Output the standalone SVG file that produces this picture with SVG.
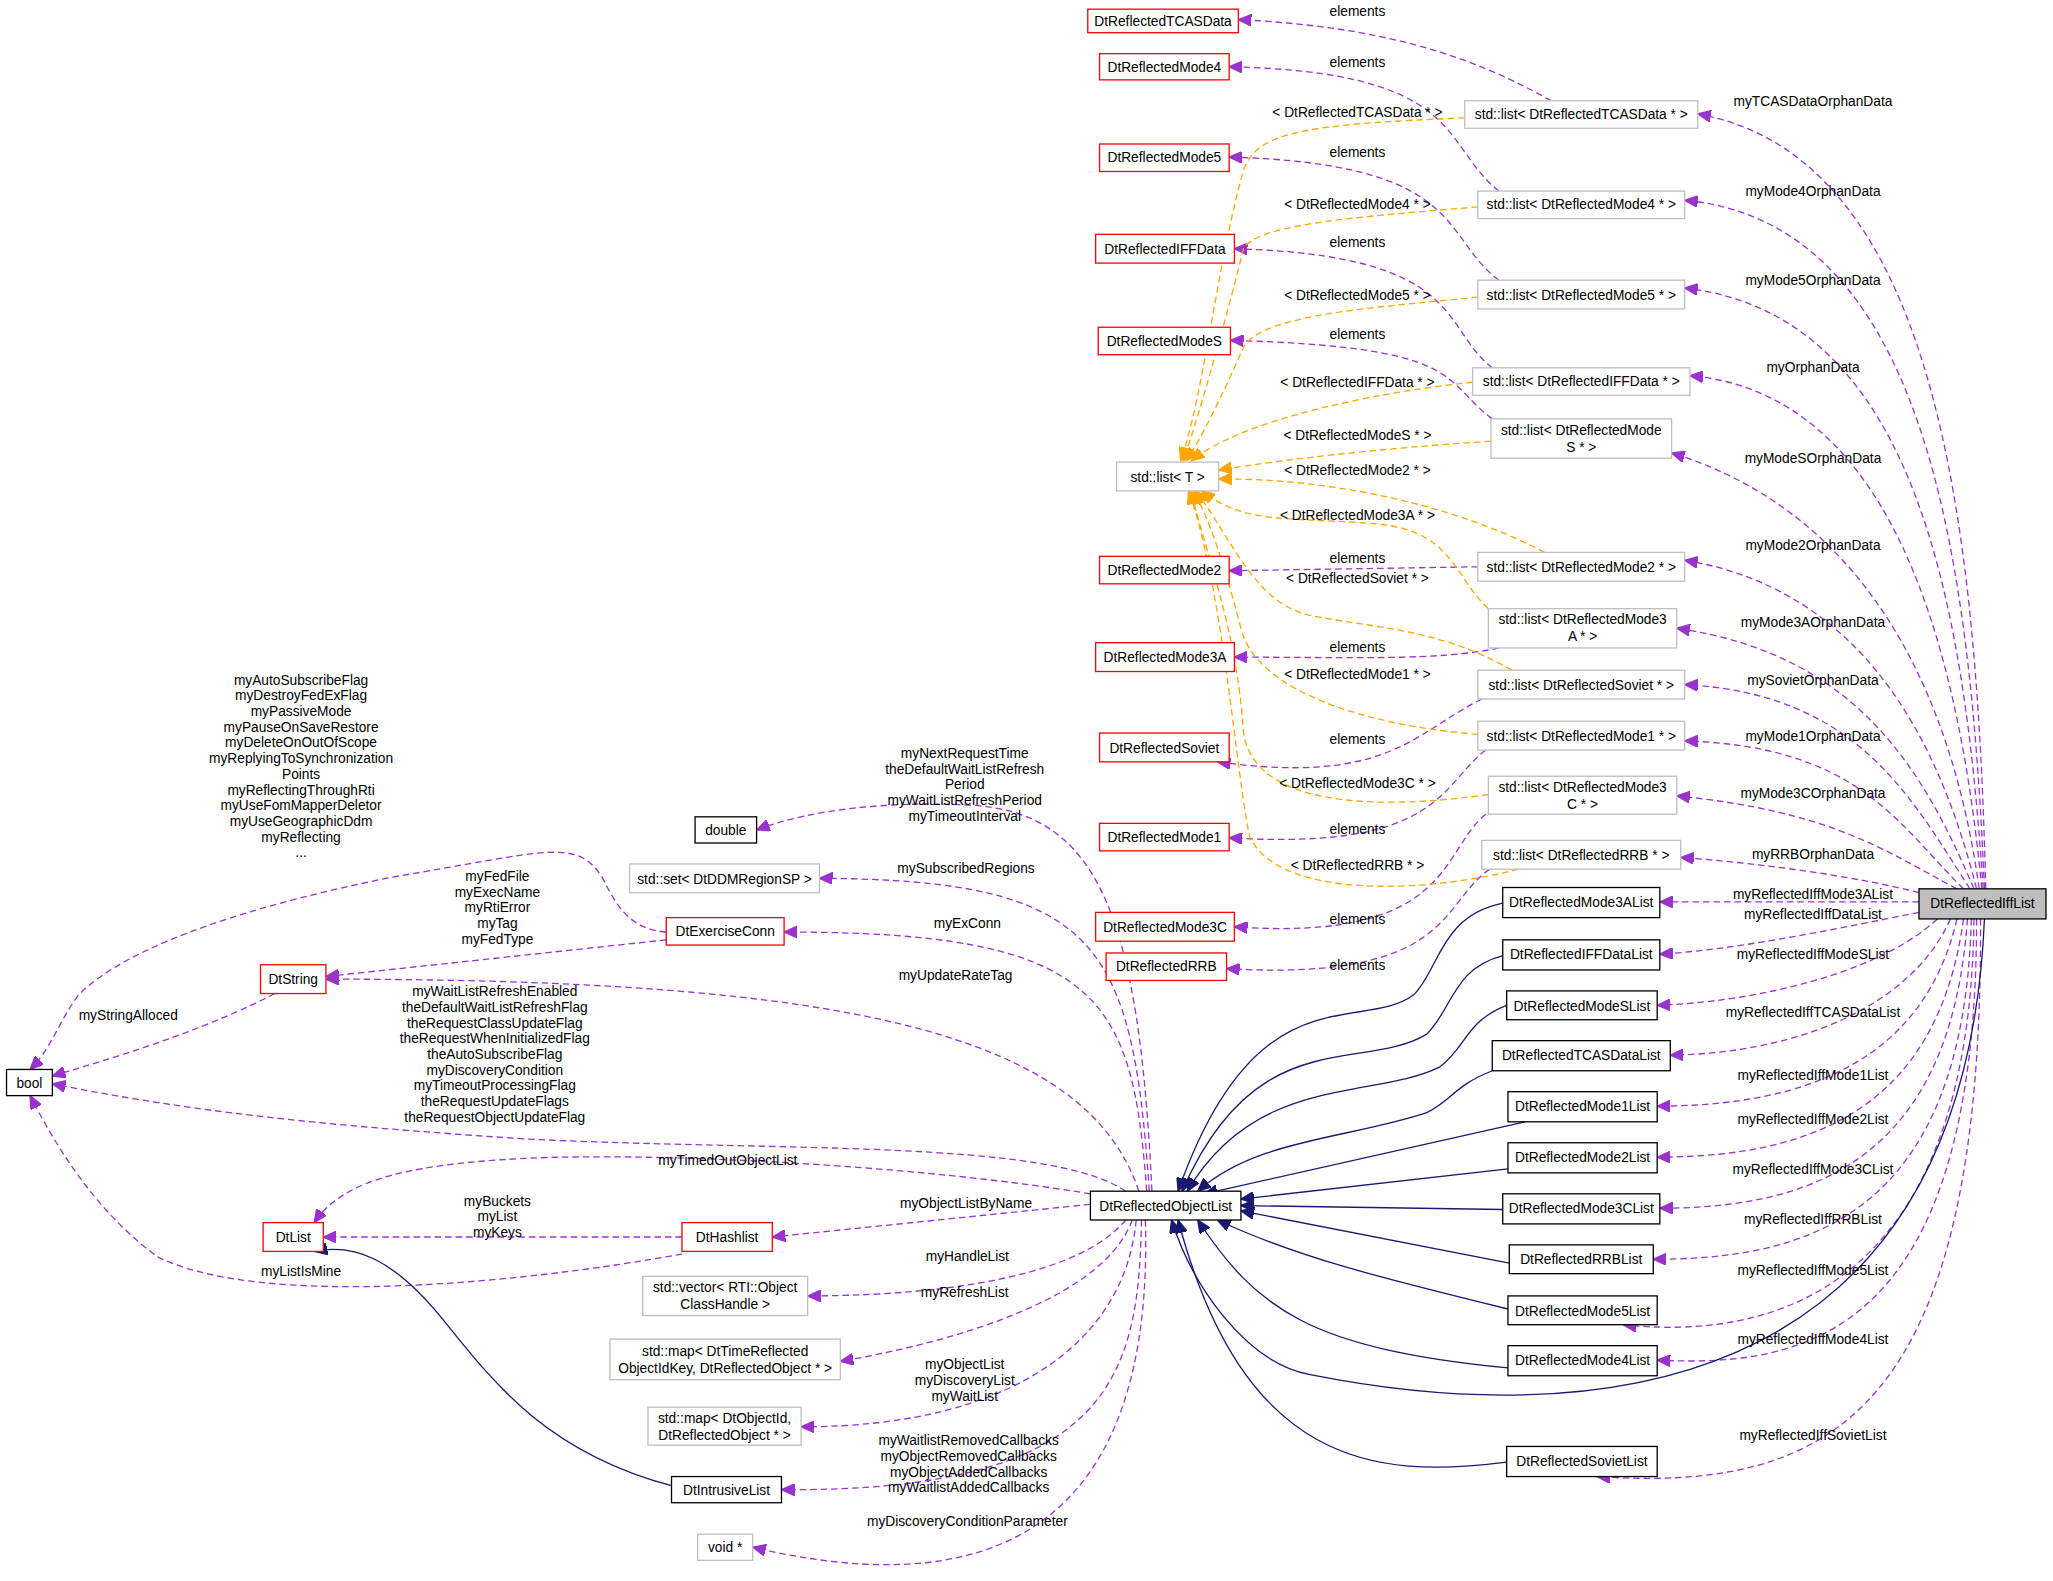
<svg xmlns="http://www.w3.org/2000/svg" width="2053" height="1581" viewBox="0 0 2053 1581">
<style>
text{font-family:"Liberation Sans",Arial,sans-serif;font-size:10.5px;fill:#000;text-anchor:middle}
.n rect{stroke-width:1}
.r{fill:#fff;stroke:#ff0000}
.k{fill:#fff;stroke:#000}
.g{fill:#fff;stroke:#bfbfbf}
.p{fill:none;stroke:#9a32cd;stroke-dasharray:5,3;marker-end:url(#ap)}
.o{fill:none;stroke:#ffa500;stroke-dasharray:5,3;marker-end:url(#ao)}
.b{fill:none;stroke:#191970;marker-end:url(#ab)}
</style>
<defs>
<marker id="ap" markerUnits="userSpaceOnUse" markerWidth="11" markerHeight="9" refX="10" refY="4.5" orient="auto"><path d="M0,0L10,4.5L0,9z" fill="#9a32cd" stroke="#9a32cd"/></marker>
<marker id="ao" markerUnits="userSpaceOnUse" markerWidth="11" markerHeight="9" refX="10" refY="4.5" orient="auto"><path d="M0,0L10,4.5L0,9z" fill="#ffa500" stroke="#ffa500"/></marker>
<marker id="ab" markerUnits="userSpaceOnUse" markerWidth="11" markerHeight="9" refX="10" refY="4.5" orient="auto"><path d="M0,0L10,4.5L0,9z" fill="#191970" stroke="#191970"/></marker>
</defs>
<rect width="2053" height="1581" fill="#fff"/>
<g transform="scale(1.309)">
<g id="edges">
<path class="p" d="M1517,679 C1510,400 1480,120 1297,87"/>
<path class="p" d="M1516,679 C1505,420 1470,170 1287,153"/>
<path class="p" d="M1515,679 C1500,450 1460,240 1287,220"/>
<path class="p" d="M1514,679 C1495,480 1440,300 1291,287"/>
<path class="p" d="M1512,679 C1490,520 1420,390 1277,346"/>
<path class="p" d="M1510,679 C1480,560 1420,450 1287,428"/>
<path class="p" d="M1508,679 C1470,590 1420,500 1281,480"/>
<path class="p" d="M1505,679 C1460,610 1420,530 1287,523"/>
<path class="p" d="M1500,679 C1450,630 1420,570 1287,566"/>
<path class="p" d="M1495,679 C1440,650 1400,620 1281,608"/>
<path class="p" d="M1466,682 C1420,670 1350,660 1284,655"/>
<path class="p" d="M1466,689 L1268,689"/>
<path class="p" d="M1466,697 C1400,710 1330,725 1268,729"/>
<path class="p" d="M1480,702 C1440,740 1350,765 1266,768"/>
<path class="p" d="M1490,702 C1460,770 1370,805 1276,806"/>
<path class="p" d="M1495,702 C1470,810 1380,845 1266,845"/>
<path class="p" d="M1500,702 C1480,850 1380,884 1266,884"/>
<path class="p" d="M1503,702 C1490,890 1380,923 1268,923"/>
<path class="p" d="M1506,702 C1500,930 1380,962 1263,962"/>
<path class="p" d="M1508,702 C1505,980 1360,1025 1240,1012"/>
<path class="p" d="M1510,702 C1510,1020 1380,1045 1266,1039"/>
<path class="p" d="M1513,702 C1515,1080 1400,1140 1220,1128"/>
<path class="b" d="M1516,702 C1500,1080 1200,1090 1000,1050 C950,1040 910,980 895,932"/>
<path class="p" d="M1185,77 C1120,40 1050,20 946,15"/>
<path class="p" d="M1145,146 C1100,110 1120,55 939,51"/>
<path class="p" d="M1145,214 C1100,180 1120,125 939,120"/>
<path class="p" d="M1140,281 C1100,250 1120,195 943,190"/>
<path class="p" d="M1140,320 C1100,290 1120,265 940,260"/>
<path class="p" d="M1129,433 L939,436"/>
<path class="p" d="M1145,495 C1100,505 1030,502 943,502"/>
<path class="p" d="M1132,534 C1080,560 1060,600 930,582"/>
<path class="p" d="M1135,573 C1100,600 1100,650 939,640"/>
<path class="p" d="M1135,622 C1100,650 1110,720 943,708"/>
<path class="p" d="M1138,664 C1100,690 1110,750 937,740"/>
<path class="o" d="M1119,90 C1000,95 960,100 950,130 C930,200 920,300 902,352"/>
<path class="o" d="M1129,158 C1050,165 960,170 950,190 C935,250 915,320 904,352"/>
<path class="o" d="M1129,227 C1050,235 965,240 950,265 C935,300 915,340 906,352"/>
<path class="o" d="M1125,292 C1050,300 950,320 910,352"/>
<path class="o" d="M1139,337 C1050,343 990,350 931,359"/>
<path class="o" d="M1180,422 C1100,380 1000,365 931,366"/>
<path class="o" d="M1137,465 C1110,440 1110,405 1050,400 C980,395 950,400 918,375"/>
<path class="o" d="M1155,512 C1100,480 1050,480 1000,470 C960,460 945,420 914,375"/>
<path class="o" d="M1129,561 C1050,555 960,530 948,480 C935,430 925,400 912,375"/>
<path class="o" d="M1137,607 C1080,615 960,625 950,560 C945,480 920,420 910,375"/>
<path class="o" d="M1160,664 C1100,680 980,690 955,640 C945,600 935,450 908,375"/>
<path class="b" d="M1148,690 C1100,700 1100,740 1080,760 C1040,790 960,740 900,910"/>
<path class="b" d="M1148,730 C1110,740 1110,770 1090,790 C1040,820 960,780 903,910"/>
<path class="b" d="M1151,768 C1120,780 1120,800 1100,815 C1050,840 960,820 907,910"/>
<path class="b" d="M1140,818 C1110,830 1110,840 1090,850 C1030,870 960,870 915,910"/>
<path class="b" d="M1165,857 L920,912"/>
<path class="b" d="M1152,893 L948,916"/>
<path class="b" d="M1148,924 L948,921"/>
<path class="b" d="M1153,965 L948,925"/>
<path class="b" d="M1152,1000 C1050,975 990,960 930,932"/>
<path class="b" d="M1152,1045 C1000,1030 960,1000 915,932"/>
<path class="b" d="M1151,1117 C1050,1130 950,1120 900,932"/>
<path class="p" d="M880,910 C870,700 840,620 740,615 C680,612 620,618 578,634"/>
<path class="p" d="M878,910 C865,720 840,672 626,671"/>
<path class="p" d="M876,910 C865,760 840,712 599,712"/>
<path class="p" d="M870,910 C830,790 650,748 249,748"/>
<path class="p" d="M860,910 C800,870 600,880 400,870 C250,860 150,850 40,828"/>
<path class="p" d="M833,912 C700,890 500,880 400,885 C300,890 260,905 240,934"/>
<path class="p" d="M833,920 L590,945"/>
<path class="p" d="M860,932 C820,980 700,990 617,990"/>
<path class="p" d="M865,932 C840,1000 700,1030 642,1040"/>
<path class="p" d="M868,932 C860,1020 780,1090 612,1090"/>
<path class="p" d="M872,932 C870,1050 850,1140 597,1138"/>
<path class="p" d="M875,932 C880,1100 820,1240 575,1182"/>
<path class="p" d="M509,712 C480,710 470,690 460,670 C440,640 420,650 300,670 C200,690 100,720 60,760 C45,780 40,800 23,817"/>
<path class="p" d="M509,718 L249,746"/>
<path class="p" d="M210,759 C150,790 80,810 40,822"/>
<path class="p" d="M521,945 L247,945"/>
<path class="p" d="M521,958 C400,980 200,1000 120,960 C80,930 50,890 23,837"/>
<path class="b" d="M513,1135 C420,1110 380,1060 340,1010 C300,960 270,950 240,956"/>
</g>
<g id="labels">
<text x="1385" y="81">myTCASDataOrphanData</text>
<text x="1385" y="150">myMode4OrphanData</text>
<text x="1385" y="218">myMode5OrphanData</text>
<text x="1385" y="284">myOrphanData</text>
<text x="1385" y="354">myModeSOrphanData</text>
<text x="1385" y="420">myMode2OrphanData</text>
<text x="1385" y="479">myMode3AOrphanData</text>
<text x="1385" y="523">mySovietOrphanData</text>
<text x="1385" y="566">myMode1OrphanData</text>
<text x="1385" y="610">myMode3COrphanData</text>
<text x="1385" y="656">myRRBOrphanData</text>
<text x="1385" y="687">myReflectedIffMode3AList</text>
<text x="1385" y="702">myReflectedIffDataList</text>
<text x="1385" y="733">myReflectedIffModeSList</text>
<text x="1385" y="777">myReflectedIffTCASDataList</text>
<text x="1385" y="825">myReflectedIffMode1List</text>
<text x="1385" y="859">myReflectedIffMode2List</text>
<text x="1385" y="897">myReflectedIffMode3CList</text>
<text x="1385" y="935">myReflectedIffRRBList</text>
<text x="1385" y="974">myReflectedIffMode5List</text>
<text x="1385" y="1027">myReflectedIffMode4List</text>
<text x="1385" y="1100">myReflectedIffSovietList</text>
<text x="1037" y="89">&lt; DtReflectedTCASData * &gt;</text>
<text x="1037" y="160">&lt; DtReflectedMode4 * &gt;</text>
<text x="1037" y="229">&lt; DtReflectedMode5 * &gt;</text>
<text x="1037" y="296">&lt; DtReflectedIFFData * &gt;</text>
<text x="1037" y="336">&lt; DtReflectedModeS * &gt;</text>
<text x="1037" y="363">&lt; DtReflectedMode2 * &gt;</text>
<text x="1037" y="397">&lt; DtReflectedMode3A * &gt;</text>
<text x="1037" y="445">&lt; DtReflectedSoviet * &gt;</text>
<text x="1037" y="519">&lt; DtReflectedMode1 * &gt;</text>
<text x="1037" y="602">&lt; DtReflectedMode3C * &gt;</text>
<text x="1037" y="665">&lt; DtReflectedRRB * &gt;</text>
<text x="1037" y="12">elements</text>
<text x="1037" y="51">elements</text>
<text x="1037" y="120">elements</text>
<text x="1037" y="189">elements</text>
<text x="1037" y="259">elements</text>
<text x="1037" y="430">elements</text>
<text x="1037" y="498">elements</text>
<text x="1037" y="568">elements</text>
<text x="1037" y="637">elements</text>
<text x="1037" y="706">elements</text>
<text x="1037" y="741">elements</text>
<text x="230" y="523">myAutoSubscribeFlag</text>
<text x="230" y="535">myDestroyFedExFlag</text>
<text x="230" y="547">myPassiveMode</text>
<text x="230" y="559">myPauseOnSaveRestore</text>
<text x="230" y="571">myDeleteOnOutOfScope</text>
<text x="230" y="583">myReplyingToSynchronization</text>
<text x="230" y="595">Points</text>
<text x="230" y="607">myReflectingThroughRti</text>
<text x="230" y="619">myUseFomMapperDeletor</text>
<text x="230" y="631">myUseGeographicDdm</text>
<text x="230" y="643">myReflecting</text>
<text x="230" y="655">...</text>
<text x="380" y="673">myFedFile</text>
<text x="380" y="685">myExecName</text>
<text x="380" y="697">myRtiError</text>
<text x="380" y="709">myTag</text>
<text x="380" y="721">myFedType</text>
<text x="98" y="779">myStringAlloced</text>
<text x="378" y="761">myWaitListRefreshEnabled</text>
<text x="378" y="773">theDefaultWaitListRefreshFlag</text>
<text x="378" y="785">theRequestClassUpdateFlag</text>
<text x="378" y="797">theRequestWhenInitializedFlag</text>
<text x="378" y="809">theAutoSubscribeFlag</text>
<text x="378" y="821">myDiscoveryCondition</text>
<text x="378" y="833">myTimeoutProcessingFlag</text>
<text x="378" y="845">theRequestUpdateFlags</text>
<text x="378" y="857">theRequestObjectUpdateFlag</text>
<text x="730" y="749">myUpdateRateTag</text>
<text x="737" y="579">myNextRequestTime</text>
<text x="737" y="591">theDefaultWaitListRefresh</text>
<text x="737" y="603">Period</text>
<text x="737" y="615">myWaitListRefreshPeriod</text>
<text x="737" y="627">myTimeoutInterval</text>
<text x="738" y="667">mySubscribedRegions</text>
<text x="739" y="709">myExConn</text>
<text x="556" y="890">myTimedOutObjectList</text>
<text x="380" y="921">myBuckets</text>
<text x="380" y="933">myList</text>
<text x="380" y="945">myKeys</text>
<text x="738" y="923">myObjectListByName</text>
<text x="230" y="975">myListIsMine</text>
<text x="739" y="963">myHandleList</text>
<text x="737" y="991">myRefreshList</text>
<text x="737" y="1046">myObjectList</text>
<text x="737" y="1058">myDiscoveryList</text>
<text x="737" y="1070">myWaitList</text>
<text x="740" y="1104">myWaitlistRemovedCallbacks</text>
<text x="740" y="1116">myObjectRemovedCallbacks</text>
<text x="740" y="1128">myObjectAddedCallbacks</text>
<text x="740" y="1140">myWaitlistAddedCallbacks</text>
<text x="739" y="1166">myDiscoveryConditionParameter</text>
</g>
<g id="DtReflectedIffList"><rect x="1466" y="679" width="97" height="23" fill="#bfbfbf" stroke="#000"/><text x="1514.5" y="694">DtReflectedIffList</text></g>
<g id="DtReflectedTCASData"><rect class="r" x="831" y="7" width="115" height="18"/><text x="888.5" y="20">DtReflectedTCASData</text></g>
<g id="DtReflectedMode4"><rect class="r" x="840" y="41" width="99" height="20"/><text x="889.5" y="55">DtReflectedMode4</text></g>
<g id="DtReflectedMode5"><rect class="r" x="840" y="110" width="99" height="21"/><text x="889.5" y="124">DtReflectedMode5</text></g>
<g id="DtReflectedIFFData"><rect class="r" x="837" y="179" width="106" height="22"/><text x="890" y="194">DtReflectedIFFData</text></g>
<g id="DtReflectedModeS"><rect class="r" x="839" y="250" width="101" height="21"/><text x="889.5" y="264">DtReflectedModeS</text></g>
<g id="stdlistT"><rect class="g" x="853" y="353" width="78" height="22"/><text x="892" y="368">std::list&lt; T &gt;</text></g>
<g id="DtReflectedMode2"><rect class="r" x="840" y="425" width="99" height="21"/><text x="889.5" y="439">DtReflectedMode2</text></g>
<g id="DtReflectedMode3A"><rect class="r" x="837" y="491" width="106" height="22"/><text x="890" y="506">DtReflectedMode3A</text></g>
<g id="DtReflectedSoviet"><rect class="r" x="840" y="560" width="99" height="22"/><text x="889.5" y="575">DtReflectedSoviet</text></g>
<g id="DtReflectedMode1"><rect class="r" x="840" y="629" width="99" height="21"/><text x="889.5" y="643">DtReflectedMode1</text></g>
<g id="DtReflectedMode3C"><rect class="r" x="837" y="697" width="106" height="22"/><text x="890" y="712">DtReflectedMode3C</text></g>
<g id="DtReflectedRRB"><rect class="r" x="845" y="728" width="92" height="21"/><text x="891" y="742">DtReflectedRRB</text></g>
<g id="listTCAS"><rect class="g" x="1119" y="77" width="178" height="21"/><text x="1208" y="91">std::list&lt; DtReflectedTCASData * &gt;</text></g>
<g id="listMode4"><rect class="g" x="1129" y="146" width="158" height="21"/><text x="1208" y="160">std::list&lt; DtReflectedMode4 * &gt;</text></g>
<g id="listMode5"><rect class="g" x="1129" y="214" width="158" height="22"/><text x="1208" y="229">std::list&lt; DtReflectedMode5 * &gt;</text></g>
<g id="listIFF"><rect class="g" x="1125" y="281" width="166" height="21"/><text x="1208" y="295">std::list&lt; DtReflectedIFFData * &gt;</text></g>
<g id="listModeS"><rect class="g" x="1139" y="320" width="138" height="30"/><text x="1208" y="332">std::list&lt; DtReflectedMode</text><text x="1208" y="345">S * &gt;</text></g>
<g id="listMode2"><rect class="g" x="1129" y="422" width="158" height="22"/><text x="1208" y="437">std::list&lt; DtReflectedMode2 * &gt;</text></g>
<g id="listMode3A"><rect class="g" x="1137" y="465" width="144" height="30"/><text x="1209" y="477">std::list&lt; DtReflectedMode3</text><text x="1209" y="490">A * &gt;</text></g>
<g id="listSoviet"><rect class="g" x="1129" y="512" width="158" height="22"/><text x="1208" y="527">std::list&lt; DtReflectedSoviet * &gt;</text></g>
<g id="listMode1"><rect class="g" x="1129" y="551" width="158" height="22"/><text x="1208" y="566">std::list&lt; DtReflectedMode1 * &gt;</text></g>
<g id="listMode3C"><rect class="g" x="1137" y="593" width="144" height="29"/><text x="1209" y="605">std::list&lt; DtReflectedMode3</text><text x="1209" y="618">C * &gt;</text></g>
<g id="listRRB"><rect class="g" x="1132" y="642" width="152" height="22"/><text x="1208" y="657">std::list&lt; DtReflectedRRB * &gt;</text></g>
<g id="Mode3AList"><rect class="k" x="1148" y="678" width="120" height="23"/><text x="1208" y="693">DtReflectedMode3AList</text></g>
<g id="IFFDataList"><rect class="k" x="1148" y="718" width="120" height="23"/><text x="1208" y="733">DtReflectedIFFDataList</text></g>
<g id="ModeSList"><rect class="k" x="1151" y="757" width="115" height="22"/><text x="1208.5" y="772">DtReflectedModeSList</text></g>
<g id="TCASDataList"><rect class="k" x="1140" y="795" width="136" height="23"/><text x="1208" y="810">DtReflectedTCASDataList</text></g>
<g id="Mode1List"><rect class="k" x="1152" y="834" width="114" height="23"/><text x="1209" y="849">DtReflectedMode1List</text></g>
<g id="Mode2List"><rect class="k" x="1152" y="873" width="114" height="23"/><text x="1209" y="888">DtReflectedMode2List</text></g>
<g id="Mode3CList"><rect class="k" x="1148" y="912" width="120" height="23"/><text x="1208" y="927">DtReflectedMode3CList</text></g>
<g id="RRBList"><rect class="k" x="1153" y="951" width="110" height="22"/><text x="1208" y="966">DtReflectedRRBList</text></g>
<g id="Mode5List"><rect class="k" x="1152" y="990" width="114" height="22"/><text x="1209" y="1005">DtReflectedMode5List</text></g>
<g id="Mode4List"><rect class="k" x="1152" y="1028" width="114" height="23"/><text x="1209" y="1043">DtReflectedMode4List</text></g>
<g id="SovietList"><rect class="k" x="1151" y="1105" width="115" height="23"/><text x="1208.5" y="1120">DtReflectedSovietList</text></g>
<g id="DtReflectedObjectList"><rect class="k" x="833" y="910" width="115" height="22"/><text x="890.5" y="925">DtReflectedObjectList</text></g>
<g id="double"><rect class="k" x="531" y="624" width="47" height="20"/><text x="554.5" y="638">double</text></g>
<g id="setRegion"><rect class="g" x="481" y="660" width="145" height="22"/><text x="553.5" y="675">std::set&lt; DtDDMRegionSP &gt;</text></g>
<g id="DtExerciseConn"><rect class="r" x="509" y="701" width="90" height="21"/><text x="554" y="715">DtExerciseConn</text></g>
<g id="DtString"><rect class="r" x="199" y="737" width="50" height="22"/><text x="224" y="752">DtString</text></g>
<g id="bool"><rect class="k" x="5" y="817" width="35" height="20"/><text x="22.5" y="831">bool</text></g>
<g id="DtList"><rect class="r" x="201" y="934" width="46" height="22"/><text x="224" y="949">DtList</text></g>
<g id="DtHashlist"><rect class="r" x="521" y="934" width="69" height="22"/><text x="555.5" y="949">DtHashlist</text></g>
<g id="vectorRTI"><rect class="g" x="491" y="975" width="126" height="30"/><text x="554" y="987">std::vector&lt; RTI::Object</text><text x="554" y="1000">ClassHandle &gt;</text></g>
<g id="mapTime"><rect class="g" x="466" y="1023" width="176" height="31"/><text x="554" y="1036">std::map&lt; DtTimeReflected</text><text x="554" y="1049">ObjectIdKey, DtReflectedObject * &gt;</text></g>
<g id="mapObjId"><rect class="g" x="495" y="1075" width="117" height="29"/><text x="553.5" y="1087">std::map&lt; DtObjectId,</text><text x="553.5" y="1100">DtReflectedObject * &gt;</text></g>
<g id="DtIntrusiveList"><rect class="k" x="513" y="1128" width="84" height="20"/><text x="555" y="1142">DtIntrusiveList</text></g>
<g id="voidptr"><rect class="g" x="533" y="1172" width="42" height="20"/><text x="554" y="1186">void *</text></g>
</g>
</svg>
